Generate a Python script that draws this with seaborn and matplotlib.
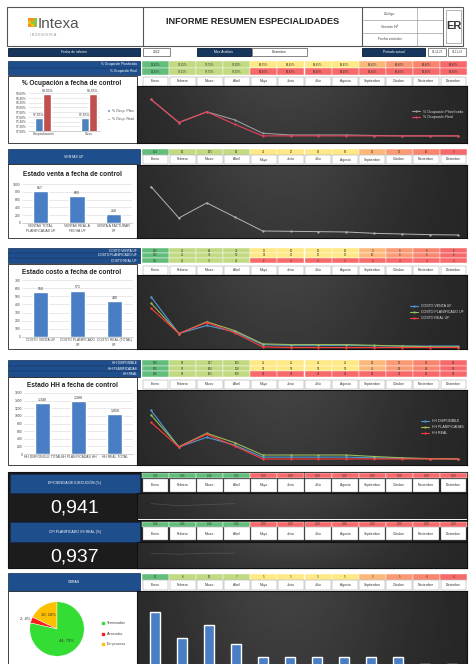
import numpy as np
import pandas as pd
import matplotlib
matplotlib.use("Agg")
import matplotlib.pyplot as plt
from matplotlib.patches import Rectangle, Patch
from matplotlib.ticker import FuncFormatter
import seaborn as sns

# ---------------- data ----------------
months = ["Enero", "Febrero", "Marzo", "Abril", "Mayo", "Junio", "Julio",
          "Agosto", "Septiembre", "Octubre", "Noviembre", "Diciembre"]
fecha_informe = "2022"
mes_analisis = "Diciembre"
periodo_desde = "01-12-22"
periodo_hasta = "31-12-22"

occ_categories = ["Hospitalización", "Otros"]
occ_series = ["% Ocup. Plan.", "% Ocup. Real"]
occ_plan_ctrl = [97.55, 97.55]
occ_real_ctrl = [98.55, 98.55]
occ_line_names = ["% Ocupación Planificada", "% Ocupación Real"]
occ_plan_month = [98.45, 97.15, 97.75, 97.30, 96.55, 96.45, 96.45, 96.45, 96.42, 96.40, 96.40, 96.40]
occ_real_month = [98.45, 97.15, 97.75, 97.05, 96.40, 96.40, 96.40, 96.40, 96.40, 96.40, 96.40, 96.40]

ventas_categories = ["VENTAS TOTAL\nPLANIFICADAS UF", "VENTAS REAL A\nFECHA UF", "VENTA A FACTURAR\nUF"]
ventas_ctrl = [817, 690, 218]
ventas_line_name = "VENTAS UF"
ventas_month = [154, 60, 105, 63, 21, 20, 19, 18, 14, 12, 10, 9]

costo_categories = ["COSTO VENTA UF", "COSTO PLANIFICADO\nUF", "COSTO REAL (TOTAL)\nUF"]
costo_ctrl = [550, 571, 440]
costo_line_names = ["COSTO VENTA UF", "COSTO PLANIFICADO UF", "COSTO REAL UF"]
costo_venta_month = [142, 42, 64, 47, 12, 10, 10, 10, 9, 8, 8, 8]
costo_plan_month = [125, 42, 74, 50, 14, 12, 12, 12, 10, 8, 6, 6]
costo_real_month = [111, 42, 72, 44, 6, 4, 4, 4, 4, 4, 4, 4]

hh_categories = ["HH DISPONIBLE TOTAL", "HH PLANIFICADAS HH", "HH REAL TOTAL"]
hh_ctrl = [1340, 1380, 1050]
hh_line_names = ["HH DISPONIBLE", "HH PLANIFICADAS", "HH REAL"]
hh_disp_month = [290, 95, 147, 105, 42, 42, 42, 42, 38, 35, 33, 32]
hh_plan_month = [265, 97, 168, 118, 53, 53, 53, 53, 45, 38, 34, 32]
hh_real_month = [226, 95, 163, 100, 32, 32, 32, 32, 32, 32, 32, 32]

kpi1_label = "EFICIENCIA DE EJECUCIÓN (%)"
kpi1_value = "0,941"
kpi1_month = [0.95, 0.93, 0.94, 0.95, 0, 0, 0, 0, 0, 0, 0, 0]
kpi2_label = "CPI PLANIFICADO VS REAL (%)"
kpi2_value = "0,937"
kpi2_month = [0.94, 0.93, 0.94, 0.94, 0, 0, 0, 0, 0, 0, 0, 0]

obras_label = "OBRAS"
estado_labels = ["Terminadas", "Atrasadas", "En proceso"]
estado_values = [44, 2, 10]
obras_month = [12, 8, 10, 7, 5, 5, 5, 5, 5, 5, 4, 4]

# ---------------- style ----------------
W, H = 469, 664
sns.set_theme(style="white")
plt.rcParams['font.family'] = ['Liberation Sans', 'DejaVu Sans']

COL = {'G': '#63BE7B', 'L': '#C2DA81', 'Y': '#FFE984', 'O': '#FCB87A',
       'P': '#FA9A74', 'Q': '#F9856F', 'R': '#F8696B'}
GRAD = "GLLLYYYYOPQR"
REAL = "GLLLRRRRRRRR"
KPI = "GGGGRRRRRRRR"
BLUE = '#1F4E8C'
NAVY = '#17365D'
BAR_BLUE = '#4A7EC4'
X0, CW = 142.0, 325.0 / 12
TITLE_SIZE = 4.7

fig = plt.figure(figsize=(W / 100, H / 100), dpi=100)
fig.patch.set_facecolor('white')


def ax_px(x, y, w, h):
    return fig.add_axes([x / W, 1 - (y + h) / H, w / W, h / H])


base = ax_px(0, 0, W, H)
base.set_xlim(0, W)
base.set_ylim(H, 0)
base.axis('off')


def rect(x, y, w, h, fc, ec='none', lw=0.4, z=1):
    base.add_patch(Rectangle((x, y), w, h, fc=fc, ec=ec, lw=lw, zorder=z))


def txt(x, y, s, size=2.6, color='white', ha='center', weight='normal', z=3):
    base.text(x, y, s, fontsize=size, color=color, ha=ha, va='center',
              fontweight=weight, zorder=z)


def cell_row(y, h, codes, texts):
    for i in range(12):
        x0 = X0 + i * CW
        rect(x0, y, CW, h, COL[codes[i]], ec='white', lw=0.3)
        txt(x0 + CW / 2, y + h / 2, texts[i], size=2.0, color='#333333')


def month_row(y, h):
    for i, m in enumerate(months):
        x0 = X0 + i * CW
        rect(x0 + 0.6, y + 0.6, CW - 1.2, h - 1.2, 'white', ec='#8c8c8c', lw=0.3)
        txt(x0 + CW / 2, y + h / 2, m, size=2.4, color='#333333')


def blue_box(x, y, w, h, rows, ha='right'):
    rect(x, y, w, h, BLUE, ec='#0d2a50', lw=0.5)
    n = len(rows)
    for k, r in enumerate(rows):
        yy = y + h * (k + 0.5) / n
        if k > 0:
            base.plot([x, x + w], [y + h * k / n] * 2, color='#0d2a50', lw=0.3, zorder=2)
        if ha == 'right':
            txt(x + w - 3, yy, r, size=2.3, ha='right')
        else:
            txt(x + w / 2, yy, r, size=2.5)


def dark_bg(x, y, w, h):
    bg = ax_px(x, y, w, h)
    xs = np.linspace(0, 1, 240)
    ys = np.linspace(0, 1, 80)
    Xg, Yg = np.meshgrid(xs, ys)
    Z = 0.14 + 0.12 * np.exp(-((Xg - 0.45) / 0.38) ** 2) * (1 - 0.35 * Yg)
    bg.imshow(Z, cmap='gray', vmin=0, vmax=1, aspect='auto', extent=(0, 1, 1, 0))
    bg.set_xticks([]); bg.set_yticks([])
    for s in bg.spines.values():
        s.set_color('#111111'); s.set_linewidth(0.8)
    fg = ax_px(x, y, w, h)
    fg.patch.set_alpha(0)
    return fg


def line_panel(x, y, w, h, names, series, colors, ylim, legend=True, lw=0.8,
               alpha=1.0, marker='o'):
    ax = dark_bg(x, y, w, h)
    df = pd.concat([pd.DataFrame({'x': np.arange(len(v)), 'val': v, 'serie': n})
                    for n, v in zip(names, series)])
    df = df[df['val'] > 0]
    sns.lineplot(data=df, x='x', y='val', hue='serie', hue_order=names,
                 palette=dict(zip(names, colors)), marker=marker, markersize=1.6,
                 markeredgewidth=0, linewidth=lw, alpha=alpha, ax=ax, legend=legend)
    ax.set_xlim(-0.5, 11.32)
    ax.set_ylim(*ylim)
    ax.axis('off')
    if legend:
        hs, ls = ax.get_legend_handles_labels()
        ax.legend(hs, ls, loc='center right', frameon=False, fontsize=2.6,
                  labelcolor='#dddddd', handlelength=2.2, borderaxespad=0.6)
    return ax


def bar_panel(x, y, w, h, cats, vals, ymax, ystep, labels):
    ax = ax_px(x, y, w, h)
    df = pd.DataFrame({'cat': cats, 'val': vals})
    sns.barplot(data=df, x='cat', y='val', color=BAR_BLUE, saturation=1,
                width=0.42, ax=ax)
    ax.set_ylim(0, ymax)
    ax.set_yticks(np.arange(0, ymax + 1, ystep))
    ax.yaxis.grid(True, color='#d9d9d9', lw=0.4)
    ax.set_axisbelow(True)
    for s in ['left', 'right', 'top']:
        ax.spines[s].set_visible(False)
    ax.spines['bottom'].set_color('#bfbfbf')
    ax.spines['bottom'].set_linewidth(0.5)
    ax.tick_params(labelsize=2.4, length=0, pad=1, colors='#444444')
    ax.set_xlabel(''); ax.set_ylabel('')
    ax.bar_label(ax.containers[0], labels=labels, fontsize=2.5, padding=1, color='#333333')
    ax.patch.set_alpha(0)
    return ax


# ---------------- header ----------------
rect(7, 7, 456, 39, 'white', ec='#555555', lw=0.8)
base.plot([143, 143], [7, 46], color='#555555', lw=0.8)
base.plot([362, 362], [7, 46], color='#555555', lw=0.8)
base.plot([417, 417], [7, 46], color='#888888', lw=0.4)
base.plot([443, 443], [7, 46], color='#555555', lw=0.6)
for yy in (20, 33):
    base.plot([362, 443], [yy, yy], color='#888888', lw=0.4)
txt(389.5, 13.5, "Código", size=2.6, color='#444444')
txt(389.5, 26.5, "Versión Nº", size=2.6, color='#444444')
txt(389.5, 39.5, "Fecha emisión", size=2.6, color='#444444')
rect(446, 10, 15, 33, 'white', ec='#777777', lw=0.4)
txt(453.5, 26, "ER", size=8, color='#333333', weight='bold')
txt(253, 21, "INFORME RESUMEN ESPECIALIDADES", size=6.6, color='#222222', weight='bold')
logo_cols = ['#F7941D', '#F7941D', '#8DC63F', '#FDB913', '#8DC63F', '#8DC63F',
             '#F7941D', '#FDB913', '#8DC63F']
for k, c in enumerate(logo_cols):
    rect(28 + (k % 3) * 3.2, 18 + (k // 3) * 3.2, 2.8, 2.8, c, z=2)
base.text(38, 24, "Intexa", fontsize=11, color='#555555', ha='left', va='center')
base.text(30, 35, "I N G E N I E R Í A", fontsize=2.3, color='#888888', ha='left', va='center')

# info row
rect(8, 48, 132, 8, NAVY, ec='#0a1a30', lw=0.6)
txt(74, 52, "Fecha de informe", size=2.4)
rect(143, 48, 27, 8, 'white', ec='#555555', lw=0.5)
txt(156.5, 52, fecha_informe, size=2.4, color='#333333')
rect(197, 48, 54, 8, NAVY, ec='#0a1a30', lw=0.6)
txt(224, 52, "Mes Análisis", size=2.4)
rect(252, 48, 55, 8, 'white', ec='#555555', lw=0.5)
txt(279.5, 52, mes_analisis, size=2.4, color='#333333')
rect(362, 48, 63, 8, NAVY, ec='#0a1a30', lw=0.6)
txt(393.5, 52, "Periodo actual", size=2.4)
rect(428, 48, 18, 8, 'white', ec='#555555', lw=0.5)
txt(437, 52, periodo_desde, size=2.0, color='#333333')
rect(448, 48, 18, 8, 'white', ec='#555555', lw=0.5)
txt(457, 52, periodo_hasta, size=2.0, color='#333333')

pct = lambda v: f"{v:.2f}%".replace('.', ',')

# ---------------- section 1: ocupación ----------------
blue_box(8, 61, 132, 13.5, occ_line_names)
cell_row(61, 6.75, GRAD, [pct(v) for v in occ_plan_month])
cell_row(67.75, 6.75, REAL, [pct(v) for v in occ_real_month])
month_row(76, 10.5)
rect(8, 76, 129, 67, 'white', ec='#222222', lw=0.6)
txt(72, 83.5, "% Ocupación a fecha de control", size=TITLE_SIZE, color='#222222', weight='bold')
ax1 = ax_px(28, 93, 72, 38)
df1 = pd.DataFrame({'cat': occ_categories * 2,
                    'val': occ_plan_ctrl + occ_real_ctrl,
                    'serie': [occ_series[0]] * 2 + [occ_series[1]] * 2})
sns.barplot(data=df1, x='cat', y='val', hue='serie', hue_order=occ_series,
            palette=['#4F81BD', '#C0504D'], saturation=1, width=0.36, ax=ax1)
ax1.set_xlim(-0.33, 1.24)
ax1.set_ylim(97.0, 98.6)
ax1.set_yticks(np.arange(97.0, 98.61, 0.2))
ax1.yaxis.set_major_formatter(FuncFormatter(lambda v, p: pct(v)))
ax1.yaxis.grid(True, color='#d9d9d9', lw=0.4)
ax1.set_axisbelow(True)
for s in ['left', 'right', 'top']:
    ax1.spines[s].set_visible(False)
ax1.spines['bottom'].set_color('#bfbfbf'); ax1.spines['bottom'].set_linewidth(0.5)
ax1.tick_params(labelsize=2.3, length=0, pad=1, colors='#444444')
ax1.set_xlabel(''); ax1.set_ylabel('')
for cont, vals in zip(ax1.containers, [occ_plan_ctrl, occ_real_ctrl]):
    ax1.bar_label(cont, labels=[pct(v) for v in vals], fontsize=2.4, padding=1, color='#333333')
ax1.patch.set_alpha(0)
hs, ls = ax1.get_legend_handles_labels()
ax1.legend(hs, ls, loc='center left', bbox_to_anchor=(104 / W, 1 - 115 / H),
           bbox_transform=fig.transFigure, frameon=False, fontsize=2.5,
           handlelength=0.7, handleheight=0.7, labelspacing=1.4, labelcolor='#444444')
line_panel(137, 86, 330, 57, occ_line_names, [occ_plan_month, occ_real_month],
           ['#9a9a9a', '#E8405A'], (96.0, 99.2))

# ---------------- section 2: ventas ----------------
blue_box(8, 149, 132, 15, [ventas_line_name], ha='center')
cell_row(149, 5.5, GRAD, [str(v) for v in ventas_month])
month_row(154.5, 10)
rect(8, 164, 129, 74, 'white', ec='#222222', lw=0.6)
txt(72, 174.5, "Estado venta a fecha de control", size=TITLE_SIZE, color='#222222', weight='bold')
bar_panel(22, 184, 110, 39, ventas_categories, ventas_ctrl, 1000, 200,
          [str(v) for v in ventas_ctrl])
line_panel(137, 164.5, 330, 73.5, [ventas_line_name], [ventas_month], ['#b5b5b5'],
           (0, 220), legend=False, lw=0.7)

# ---------------- section 3: costo ----------------
blue_box(8, 248, 132, 15, costo_line_names)
cell_row(248, 5, GRAD, [str(v) for v in costo_venta_month])
cell_row(253, 5, GRAD, [str(v) for v in costo_plan_month])
cell_row(258, 5, REAL, [str(v) for v in costo_real_month])
month_row(265, 10.5)
rect(8, 264, 129, 85, 'white', ec='#222222', lw=0.6)
txt(72, 272.5, "Estado costo a fecha de control", size=TITLE_SIZE, color='#222222', weight='bold')
bar_panel(22, 280, 111, 57, costo_categories, costo_ctrl, 700, 100,
          [str(v) for v in costo_ctrl])
line_panel(137, 275.5, 330, 73.5, costo_line_names,
           [costo_venta_month, costo_plan_month, costo_real_month],
           ['#4F9BD9', '#9BBB59', '#FF3B3B'], (0, 200))

# ---------------- section 4: HH ----------------
thou = lambda v: f"{v:,}".replace(',', '.')
blue_box(8, 360, 132, 17, hh_line_names)
cell_row(360, 5.67, GRAD, [str(v) for v in hh_disp_month])
cell_row(365.67, 5.67, GRAD, [str(v) for v in hh_plan_month])
cell_row(371.33, 5.67, REAL, [str(v) for v in hh_real_month])
month_row(379, 10.5)
rect(8, 377, 129, 88, 'white', ec='#222222', lw=0.6)
txt(72, 385.5, "Estado HH a fecha de control", size=TITLE_SIZE, color='#222222', weight='bold')
ax4 = bar_panel(24, 393, 109, 61, hh_categories, hh_ctrl, 1600, 200,
                [thou(v) for v in hh_ctrl])
line_panel(137, 389.5, 330, 75.5, hh_line_names,
           [hh_disp_month, hh_plan_month, hh_real_month],
           ['#4F9BD9', '#9BBB59', '#FF3B3B'], (0, 400))

# ---------------- section 5: KPIs ----------------
rect(8, 472, 459, 96, '#1c1c1c', ec='#111111', lw=0.8)
for (yb, lab, val, vals) in [(473, kpi1_label, kpi1_value, kpi1_month),
                             (521.5, kpi2_label, kpi2_value, kpi2_month)]:
    rect(10, yb + 0.5, 130, 19.5, BLUE, ec='#0d2a50', lw=0.5, z=2)
    txt(75, yb + 10, lab, size=2.5)
    txt(75, yb + 35, val, size=14, color='white')
    cell_row(yb, 5, KPI, [f"{v:.2f}".replace('.', ',') for v in vals])
    month_row(yb + 5, 14.5)
    line_panel(137, yb + 20, 330, 26.5, [lab], [vals], ['#8a8a8a'], (0.80, 1.05),
               legend=False, lw=0.5, alpha=0.35, marker=None)

# ---------------- section 6: obras ----------------
blue_box(8, 573, 132, 18, [obras_label], ha='center')
cell_row(574, 5.5, GRAD, [str(v) for v in obras_month])
month_row(579.5, 11.5)
rect(8, 591, 129, 80, 'white', ec='#222222', lw=0.6)
axp = ax_px(22, 595, 70, 68)
pie_order = [2, 1, 0]
pie_colors = {'Terminadas': '#33DD33', 'Atrasadas': '#FF1A1A', 'En proceso': '#FFC000'}
wedges, _ = axp.pie([estado_values[i] for i in pie_order],
                    colors=[pie_colors[estado_labels[i]] for i in pie_order],
                    startangle=90, counterclock=True,
                    wedgeprops=dict(ec='white', lw=0.3))
axp.set_aspect('equal')
total = sum(estado_values)
label_r = {0: 0.55, 1: 1.22, 2: 0.62}
for wdg, i in zip(wedges, pie_order):
    ang = np.deg2rad((wdg.theta1 + wdg.theta2) / 2)
    r = label_r[i]
    axp.text(r * np.cos(ang), r * np.sin(ang),
             f"{estado_values[i]}; {round(100 * estado_values[i] / total)}%",
             fontsize=3.0, ha='center', va='center', color='#333333')
handles = [Patch(color=pie_colors[l]) for l in estado_labels]
axp.legend(handles, estado_labels, loc='center left', bbox_to_anchor=(99 / W, 1 - 634 / H),
           bbox_transform=fig.transFigure, frameon=False, fontsize=2.6,
           handlelength=0.6, handleheight=0.6, labelspacing=1.8, labelcolor='#444444')

axb = dark_bg(137, 591, 330, 99)
dfb = pd.DataFrame({'mes': months, 'val': obras_month})
sns.barplot(data=dfb, x='mes', y='val', order=months, color=BAR_BLUE, saturation=1,
            width=0.37, ax=axb)
axb.set_xlim(-0.65, 11.55)
axb.set_ylim(0, 15.2)
axb.axis('off')

fig.savefig("out.png", dpi=100)
